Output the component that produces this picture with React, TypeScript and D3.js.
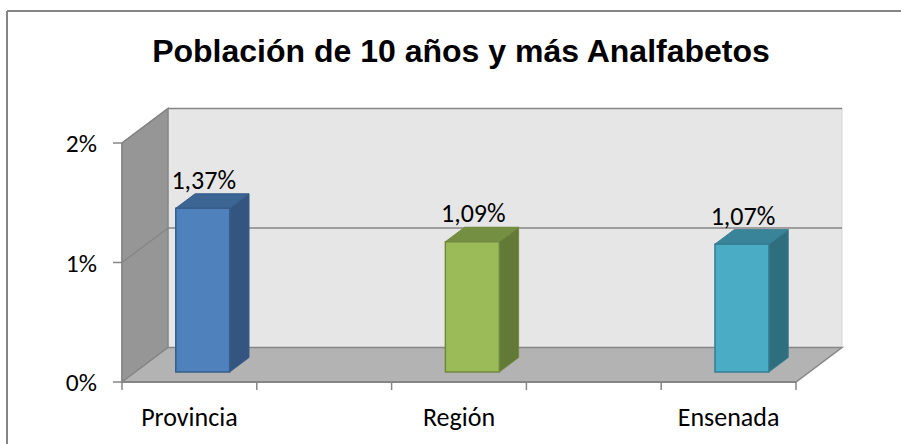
import React from "react";
import * as d3 from "d3";

const title = "Población de 10 años y más Analfabetos";
// Axis slots as drawn in the chart (blank slots between the named categories)
const categories = ["Provincia", "", "Región", "", "Ensenada"];
const values: (number | null)[] = [1.37, null, 1.09, null, 1.07];
const yTicks = [0, 1, 2];
const frontColors = ["#4f81bd", "", "#9bbb59", "", "#4bacc6"];
const topColors = ["#3d6594", "", "#758f42", "", "#3a8499"];
const sideColors = ["#34557f", "", "#637a36", "", "#2f6e7f"];
const strokeColors = ["#385d8a", "", "#71893f", "", "#357d91"];

const W = 901;
const H = 444;
const DX = 46;
const DY = 34.5;

const esLocale = d3.formatLocale({ decimal: ",", thousands: ".", grouping: [3], currency: ["", "€"] });
const fmtVal = (v: number) => esLocale.format(".2f")(v) + "%";
const fmtTick = (v: number) => esLocale.format(".0f")(v) + "%";

export default function App() {
  const x = d3.scaleBand<string>().domain(categories.map((_, i) => String(i))).range([122, 796]);
  const y = d3.scaleLinear().domain([0, 2]).range([382, 143]);
  const bw = x.bandwidth();
  const barW = bw * 0.4;
  const f0 = 0.29;
  const f1 = 0.71;
  const gridColor = "#868686";
  const font = "Carlito, Lato, 'Open Sans', sans-serif";
  const pts = (arr: number[][]) => arr.map((p) => p.join(",")).join(" ");
  const x0 = x.range()[0];
  const x1 = x.range()[1];
  const yb = y(0);
  const yt = y(2);

  return (
    <svg width={W} height={H} style={{ position: "absolute", left: 0, top: 0, background: "#fff" }}>
      {/* chart frame */}
      <line x1={7} y1={11} x2={W} y2={11} stroke={gridColor} strokeWidth={2} />
      <line x1={7} y1={11} x2={7} y2={H} stroke={gridColor} strokeWidth={2} />

      <text x={461} y={62} textAnchor="middle" fontFamily="'Liberation Sans', Arial, sans-serif" fontWeight="bold" fontSize={32} fill="#000">
        {title}
      </text>

      {/* back wall */}
      <rect x={x0 + DX} y={yt - DY} width={x1 - x0} height={yb - yt} fill="#e6e6e6" stroke="#d4d4d4" strokeWidth={1} />
      {/* left wall */}
      <polygon points={pts([[x0, yt], [x0 + DX, yt - DY], [x0 + DX, yb - DY], [x0, yb]])} fill="#969696" stroke={gridColor} strokeWidth={1.5} />
      {/* floor */}
      <polygon points={pts([[x0, yb], [x0 + DX, yb - DY], [x1 + DX, yb - DY], [x1, yb]])} fill="#b3b3b3" stroke={gridColor} strokeWidth={1.5} />

      {/* gridlines */}
      {yTicks.filter((t) => t > 0).map((t) => (
        <g key={t}>
          <line x1={x0 + DX} x2={x1 + DX} y1={y(t) - DY} y2={y(t) - DY} stroke={gridColor} strokeWidth={1.6} />
          <line x1={x0} x2={x0 + DX} y1={y(t)} y2={y(t) - DY} stroke={gridColor} strokeWidth={1.5} />
        </g>
      ))}

      {/* axes */}
      <line x1={x0} x2={x0} y1={yt} y2={yb} stroke={gridColor} strokeWidth={1.5} />
      <line x1={x0} x2={x1} y1={yb} y2={yb} stroke={gridColor} strokeWidth={2} />
      {yTicks.map((t) => (
        <g key={t}>
          <line x1={x0 - 9} x2={x0} y1={y(t)} y2={y(t)} stroke={gridColor} strokeWidth={1.5} />
          <text x={97} y={y(t)} dy="0.36em" textAnchor="end" fontFamily={font} fontSize={25.5} fill="#000">
            {fmtTick(t)}
          </text>
        </g>
      ))}
      {categories.map((_, i) => x(String(i))!).concat([x1]).map((px, i) => (
        <line key={i} x1={px} x2={px} y1={yb} y2={yb + 8} stroke={gridColor} strokeWidth={1.5} />
      ))}
      {categories.map((c, i) =>
        c ? (
          <text key={i} x={x(String(i))! + bw / 2} y={426} textAnchor="middle" fontFamily={font} fontSize={26} fill="#000">
            {c}
          </text>
        ) : null
      )}

      {/* bars */}
      {values.map((v, i) => {
        if (v == null) return null;
        const cx = x(String(i))! + bw / 2;
        const fx = cx - barW / 2 + DX * f0;
        const fy0 = y(0) - DY * f0;
        const fyt = y(v) - DY * f0;
        const ddx = DX * (f1 - f0);
        const ddy = DY * (f1 - f0);
        return (
          <g key={i}>
            <polygon points={pts([[fx + barW, fyt], [fx + barW + ddx, fyt - ddy], [fx + barW + ddx, fy0 - ddy], [fx + barW, fy0]])} fill={sideColors[i]} stroke={strokeColors[i]} strokeWidth={1} />
            <polygon points={pts([[fx, fyt], [fx + ddx, fyt - ddy], [fx + barW + ddx, fyt - ddy], [fx + barW, fyt]])} fill={topColors[i]} stroke={strokeColors[i]} strokeWidth={1} />
            <rect x={fx} y={fyt} width={barW} height={fy0 - fyt} fill={frontColors[i]} stroke={strokeColors[i]} strokeWidth={1.5} />
            <text x={fx + barW / 2 + 1} y={fyt - ddy - 5} textAnchor="middle" fontFamily={font} fontSize={26} fill="#000">
              {fmtVal(v)}
            </text>
          </g>
        );
      })}
    </svg>
  );
}
